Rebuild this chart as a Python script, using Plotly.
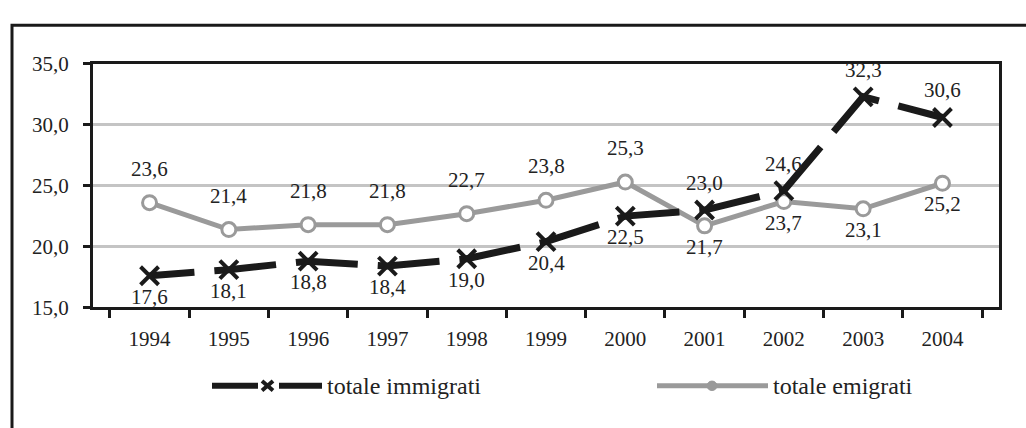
import plotly.graph_objects as go

years = ["1994", "1995", "1996", "1997", "1998", "1999", "2000", "2001", "2002", "2003", "2004"]
immigrati = [17.6, 18.1, 18.8, 18.4, 19.0, 20.4, 22.5, 23.0, 24.6, 32.3, 30.6]
emigrati = [23.6, 21.4, 21.8, 21.8, 22.7, 23.8, 25.3, 21.7, 23.7, 23.1, 25.2]
imm_label_pos = ["below"] * 7 + ["above"] * 4
emi_label_pos = ["above"] * 7 + ["below"] * 4
y_ticks = [15.0, 20.0, 25.0, 30.0, 35.0]

W, H = 1026, 428
FONT = "Liberation Serif"
BLACK = "#1a1a1a"
GREY = "#9a9a9a"
TXT = "#222"
# long-dash pattern with an initial offset so gaps fall mid-segment
DASH = ",".join(["45px", "20px"] + ["62px", "20px"] * 14)


def px(x):
    return x / W


def py(y):
    return 1 - y / H


fig = go.Figure()

fig.add_trace(go.Scatter(
    x=years, y=emigrati, mode="lines+markers", name="totale emigrati",
    line=dict(color=GREY, width=5),
    marker=dict(symbol="circle", size=14, color="white", line=dict(color=GREY, width=3)),
    showlegend=False, cliponaxis=False,
))
fig.add_trace(go.Scatter(
    x=years, y=immigrati, mode="lines+markers", name="totale immigrati",
    line=dict(color=BLACK, width=7, dash=DASH),
    marker=dict(symbol="x-thin", size=18, color=BLACK, line=dict(color=BLACK, width=4)),
    showlegend=False, cliponaxis=False,
))


def fmt(v):
    return f"{v:.1f}".replace(".", ",")


annotations = []
for ys, pos, up in ((immigrati, imm_label_pos, 27), (emigrati, emi_label_pos, 34)):
    for i, (yv, p) in enumerate(zip(ys, pos)):
        annotations.append(dict(
            x=i, y=yv, xref="x", yref="y", text=fmt(yv), showarrow=False,
            yshift=up if p == "above" else -21,
            font=dict(family=FONT, size=21, color=TXT),
        ))

# Manual legend drawn with shapes in paper space
LY = 396
shapes = [
    dict(type="rect", xref="paper", yref="paper",
         x0=px(12), x1=1.2, y0=-0.2, y1=py(14),
         line=dict(color=BLACK, width=3), layer="below"),
    dict(type="line", xref="paper", yref="paper", x0=px(212), x1=px(258), y0=py(LY), y1=py(LY),
         line=dict(color=BLACK, width=6)),
    dict(type="line", xref="paper", yref="paper", x0=px(279), x1=px(322), y0=py(LY), y1=py(LY),
         line=dict(color=BLACK, width=6)),
    dict(type="line", xref="paper", yref="paper", x0=px(262), x1=px(273), y0=py(LY - 5), y1=py(LY + 5),
         line=dict(color=BLACK, width=4)),
    dict(type="line", xref="paper", yref="paper", x0=px(262), x1=px(273), y0=py(LY + 5), y1=py(LY - 5),
         line=dict(color=BLACK, width=4)),
    dict(type="line", xref="paper", yref="paper", x0=px(657), x1=px(768), y0=py(LY), y1=py(LY),
         line=dict(color=GREY, width=5)),
    dict(type="circle", xref="paper", yref="paper", x0=px(707), x1=px(717), y0=py(LY + 5), y1=py(LY - 5),
         fillcolor=GREY, line=dict(color=GREY, width=1)),
]
annotations.append(dict(x=px(325), y=py(LY), xref="paper", yref="paper", text="totale immigrati",
                        showarrow=False, xanchor="left", yanchor="middle",
                        font=dict(family=FONT, size=24, color=TXT)))
annotations.append(dict(x=px(771), y=py(LY), xref="paper", yref="paper", text="totale emigrati",
                        showarrow=False, xanchor="left", yanchor="middle",
                        font=dict(family=FONT, size=24, color=TXT)))

fig.update_layout(
    width=W, height=H,
    margin=dict(l=0, r=0, t=0, b=0),
    paper_bgcolor="white", plot_bgcolor="white",
    separators=",.",
    font=dict(family=FONT, size=21, color=TXT),
    annotations=annotations,
    shapes=shapes,
    xaxis=dict(
        type="category", domain=[px(93), px(999)],
        showline=True, mirror=True, linecolor=BLACK, linewidth=3,
        ticks="outside", tickson="boundaries", ticklen=8, tickwidth=3, tickcolor=BLACK,
        ticklabelstandoff=10,
        showgrid=False, zeroline=False,
        tickfont=dict(family=FONT, size=21, color=TXT),
    ),
    yaxis=dict(
        range=[15, 35], domain=[py(313), py(55)],
        tickvals=y_ticks, tickformat=".1f",
        showline=True, mirror=True, linecolor=BLACK, linewidth=3,
        ticks="outside", ticklen=7, tickwidth=3, tickcolor=BLACK,
        ticklabelstandoff=10,
        showgrid=True, gridcolor="#c4c4c4", gridwidth=3, zeroline=False,
        tickfont=dict(family=FONT, size=21, color=TXT),
    ),
)

fig.write_html("out.html", post_script="document.body.style.margin='0';",
               config={"displayModeBar": False})
